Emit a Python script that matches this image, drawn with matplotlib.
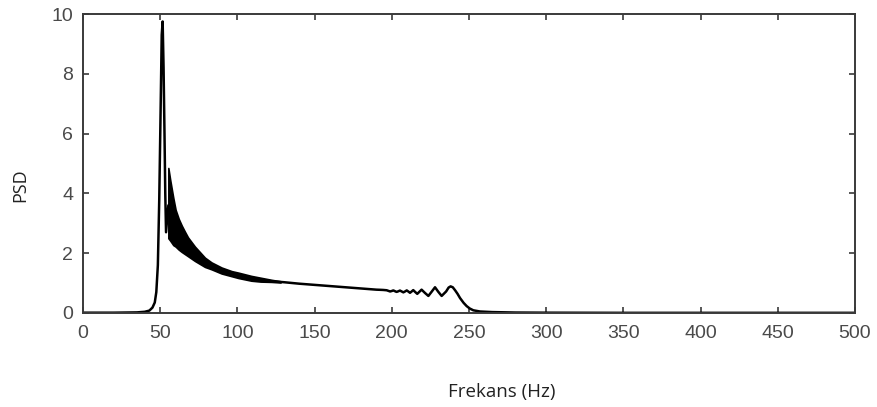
import matplotlib
matplotlib.use("Agg")
import matplotlib.pyplot as plt

# Main PSD trace (Hz, PSD)
freq = [0, 20, 35, 40, 43, 45, 46.5, 47.5, 48.5, 49.4, 50.2, 51.0, 51.6, 52.2, 52.8, 53.3, 53.8,
        55.3, 60, 70, 80, 90, 100, 110, 120, 130, 140, 150, 160, 170, 180, 185, 187.5, 190, 192.5,
        194.5, 195.6, 196.7, 197.8, 198.9, 200, 201, 202, 203.1, 204.2, 205.3, 206.4, 207.5, 208.6,
        209.7, 210.8, 211.8, 212.9, 213.9, 215.2, 216.5, 217.9, 219.3, 221.5, 223.7, 225.8, 228,
        230.1, 232.3, 235.2, 236.8, 238.1, 239.5, 241, 242.6, 244.2, 246.5, 248.5, 250.5, 252.8,
        257.1, 265, 280, 300, 350, 400, 450, 500]
psd = [0.01, 0.01, 0.02, 0.04, 0.08, 0.18, 0.35, 0.7, 1.6, 3.8, 6.5, 9.3, 9.75, 8.2, 6.0, 4.0, 2.7,
       3.6, 2.75, 2.05, 1.7, 1.42, 1.27, 1.16, 1.07, 1.03, 0.98, 0.94, 0.90, 0.86, 0.82, 0.80, 0.79,
       0.78, 0.775, 0.77, 0.765, 0.76, 0.74, 0.72, 0.735, 0.755, 0.73, 0.705, 0.725, 0.75, 0.72,
       0.69, 0.72, 0.755, 0.715, 0.675, 0.72, 0.765, 0.70, 0.64, 0.71, 0.78, 0.67, 0.57, 0.71, 0.86,
       0.71, 0.57, 0.72, 0.85, 0.89, 0.86, 0.76, 0.64, 0.50, 0.34, 0.23, 0.15, 0.09, 0.05, 0.03,
       0.015, 0.01, 0.005, 0.005, 0.005, 0.005]

# Envelope of the dense oscillation band after the main peak
band_freq = [55.3, 56.5, 58.5, 60, 62, 64, 66, 68, 72.5, 79, 83.3, 89.8, 96.3, 100.6, 109, 115,
             122, 128]
band_low = [2.50, 2.42, 2.27, 2.22, 2.12, 2.04, 1.97, 1.90, 1.74, 1.54, 1.46, 1.32, 1.23, 1.17,
            1.08, 1.05, 1.04, 1.02]
band_high = [4.85, 4.45, 3.85, 3.45, 3.15, 2.92, 2.72, 2.53, 2.22, 1.85, 1.69, 1.52, 1.40, 1.35,
             1.24, 1.18, 1.11, 1.06]

xticks = [0, 50, 100, 150, 200, 250, 300, 350, 400, 450, 500]
yticks = [0, 2, 4, 6, 8, 10]

fig = plt.figure(figsize=(8.78, 4.07), dpi=100)
ax = fig.add_axes([0.0945, 0.231, 0.8793, 0.7346])

ax.plot(freq, psd, color="black", lw=1.8, solid_joinstyle="round")
ax.fill_between(band_freq, band_low, band_high, color="black", lw=1.2, edgecolor="black")

ax.set_xlim(0, 500)
ax.set_ylim(0, 10)
ax.set_xticks(xticks)
ax.set_yticks(yticks)
ax.set_xticklabels([str(t) for t in xticks])
ax.set_yticklabels([str(t) for t in yticks])

for s in ax.spines.values():
    s.set_color("#3a3a3a")
    s.set_linewidth(1.4)

ax.tick_params(direction="in", length=4, width=1.2, color="#3a3a3a",
               top=True, right=True, labelsize=14, labelcolor="#4a4a4a")
ax.tick_params(axis="x", pad=9)
ax.tick_params(axis="y", pad=7)
for lab in ax.get_xticklabels() + ax.get_yticklabels():
    lab.set_family(["Liberation Sans", "DejaVu Sans"])

fig.text(0.572, 0.037, "Frekans (Hz)", ha="center", va="center", fontsize=13.5,
         family=["Open Sans", "DejaVu Sans"], color="#222222")
fig.text(0.023, 0.545, "PSD", ha="center", va="center", rotation=90, fontsize=13,
         family=["Open Sans", "DejaVu Sans"], color="#222222")

fig.savefig("out.png", dpi=100)
